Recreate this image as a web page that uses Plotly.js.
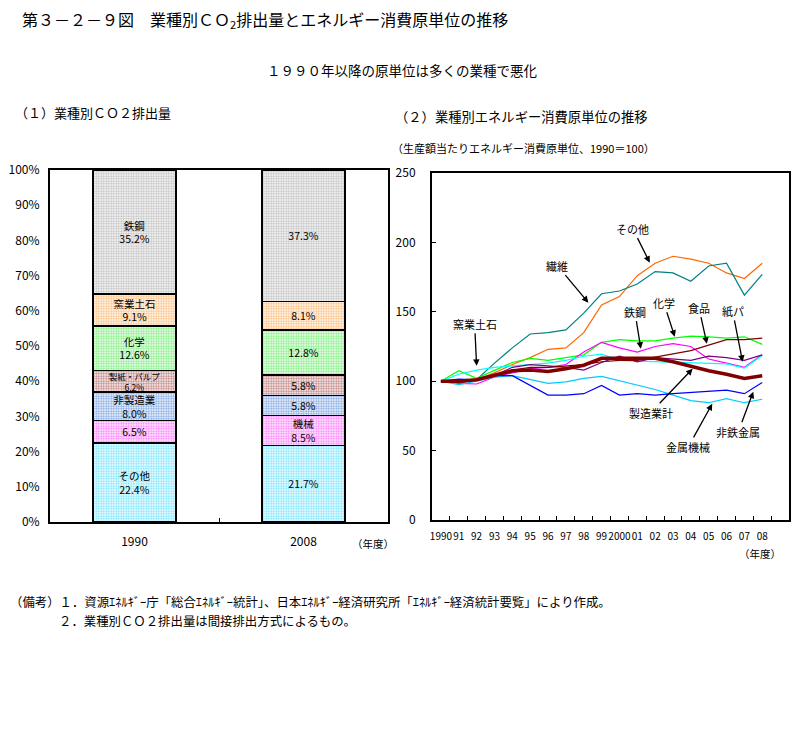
<!DOCTYPE html>
<html><head><meta charset="utf-8">
<script src="https://cdn.plot.ly/plotly-3.0.1.min.js"></script>
<style>html,body{margin:0;padding:0;background:#fff;}#chart{width:811px;height:731px;}</style>
</head><body><div id="chart"></div>
<script>
// ---- Left chart: CO2 emission shares (%) ----
const barYears = ["1990", "2008"];
const sectorNames = ["その他", "機械", "非製造業", "製紙・パルプ", "化学", "窯業土石", "鉄鋼"];
const share1990 = [22.4, 6.5, 8.0, 6.2, 12.6, 9.1, 35.2];
const share2008 = [21.7, 8.5, 5.8, 5.8, 12.8, 8.1, 37.3];
const showName1990 = [true, false, true, true, true, true, true];
const showName2008 = [false, true, false, false, false, false, false];
const sectorColors = ["#00CCFF", "#FF00FF", "#0050C8", "#800000", "#00E000", "#FF8000", "#808080"];

// ---- Right chart: energy intensity index (1990=100) ----
const years = ["1990","91","92","93","94","95","96","97","98","99","2000","01","02","03","04","05","06","07","08"];
const sonota   = [100, 99, 101, 106, 112, 117, 123, 124, 135, 155, 161, 176, 185, 190, 188, 185, 178, 174, 185];
const seni     = [100, 99, 101, 113, 124, 134, 135, 137, 149, 163, 165, 170, 179, 178, 172, 183, 185, 162, 177];
const kagaku   = [100, 107.5, 102, 108, 113.5, 116.5, 115, 117, 119, 128, 130, 129, 129, 131, 132.5, 132, 131, 132, 126.5];
const tekko    = [100, 98.5, 98, 103, 106, 109, 110, 112, 121, 128, 124, 121, 125, 127, 125, 116, 113, 110, 119];
const shokuhin = [100, 100, 101, 104, 108, 110, 110, 111, 112, 114, 115, 115, 117.5, 119.5, 122, 126, 130, 130, 131];
const kamipa   = [100, 99, 101, 104, 110, 112, 111, 110, 108, 113.5, 118, 114, 117, 116, 115, 118, 117, 115, 119];
const yogyo    = [100, 105, 108, 110, 111, 112, 113, 115, 118, 119.5, 115, 114.5, 114, 114, 113.5, 113, 112.5, 109.5, 118.5];
const kinzoku  = [100, 97.5, 100, 103, 104, 101.5, 98.5, 99.5, 102, 103.5, 100.5, 97, 94, 90, 86, 84.5, 87.5, 84.5, 87];
const hitetsu  = [100, 101.5, 101, 104, 104, 97, 90, 90, 91, 97, 90, 91, 90, 91, 92, 93, 93.5, 91, 99];
const seizo    = [100, 100, 101, 104, 107.5, 108, 107, 109, 111.5, 116.5, 116.5, 116.5, 116.5, 114, 110.5, 107.5, 105, 102, 104];

const F = "Noto Sans CJK JP, sans-serif";
const traces = [];

sectorNames.forEach((n, i) => {
  const txt = [
    (showName1990[i] ? n + "<br>" : "") + share1990[i].toFixed(1) + "%",
    (showName2008[i] ? n + "<br>" : "") + share2008[i].toFixed(1) + "%"
  ];
  const small1990 = showName1990[i] && share1990[i] < 7;
  traces.push({
    type: "bar", x: barYears, y: [share1990[i], share2008[i]], name: n,
    xaxis: "x", yaxis: "y",
    text: txt, textposition: "inside", insidetextanchor: "middle", textangle: 0,
    constraintext: "none", cliponaxis: false,
    textfont: {family: F, size: [small1990 ? 8.5 : 10.5, 10.5], color: "#000"},
    marker: {color: "#ffffff", line: {color: "#000", width: 1.5},
      pattern: {shape: ".", fgcolor: sectorColors[i], bgcolor: "#ffffff", size: 2.5, solidity: 0.5, fillmode: "overlay"}},
    showlegend: false, hoverinfo: "skip"
  });
});

const lineSeries = [
  [sonota, "#FF6600", 1.2],
  [seni, "#008080", 1.2],
  [kagaku, "#00FF00", 1.2],
  [tekko, "#FF00FF", 1.2],
  [yogyo, "#00FFFF", 1.2],
  [kinzoku, "#00CCFF", 1.2],
  [hitetsu, "#0000FF", 1.2],
  [kamipa, "#800080", 1.2],
  [shokuhin, "#800000", 1.2],
  [seizo, "#800000", 3.5]
];
lineSeries.forEach(s => {
  traces.push({type: "scatter", mode: "lines", x: years, y: s[0], xaxis: "x2", yaxis: "y2",
    line: {color: s[1], width: s[2]}, showlegend: false, hoverinfo: "skip"});
});

function px(x) { return x / 811; }
function py(y) { return 1 - y / 731; }
function txt(t, x, y, size, anchor) {
  return {text: t, x: px(x), y: py(y), xref: "paper", yref: "paper", showarrow: false, align: "left",
    xanchor: anchor || "left", yanchor: "middle", font: {family: F, size: size, color: "#000"}};
}
function arrowNote(t, xi, yv, ax, ay) {
  return {text: t, x: xi, y: yv, xref: "x2", yref: "y2", showarrow: true, ax: ax, ay: ay,
    arrowhead: 2, arrowsize: 1, arrowwidth: 1.3, arrowcolor: "#000", standoff: 0,
    font: {family: F, size: 11, color: "#000"}};
}

const annotations = [
  txt("第３－２－９図　業種別ＣＯ<sub>2</sub>排出量とエネルギー消費原単位の推移", 20, 20, 16),
  txt("１９９０年以降の原単位は多くの業種で悪化", 402, 70, 13.5, "center"),
  txt("（１）業種別ＣＯ２排出量", 13, 112, 13),
  txt("（２）業種別エネルギー消費原単位の推移", 393, 117, 13.3),
  txt("（生産額当たりエネルギー消費原単位、1990＝100）", 390, 148, 11),
  txt("（年度）", 350, 543, 10.5),
  txt("（年度）", 737, 553, 10.5),
  txt("（備考）１．資源ｴﾈﾙｷﾞｰ庁「総合ｴﾈﾙｷﾞｰ統計」、日本ｴﾈﾙｷﾞｰ経済研究所「ｴﾈﾙｷﾞｰ経済統計要覧」により作成。", 8, 602, 12.4),
  txt("２．業種別ＣＯ２排出量は間接排出方式によるもの。", 57, 621, 12.4),
  arrowNote("その他", 11.7, 185.4, -17, -34),
  arrowNote("繊維", 8.26, 156.6, -31, -37),
  arrowNote("窯業土石", 2.0, 111.1, -2, -42),
  arrowNote("鉄鋼", 11.2, 123.4, -6, -37),
  arrowNote("化学", 13.1, 132, -11, -34),
  arrowNote("食品", 14.9, 127, -8, -36),
  arrowNote("紙パ", 16.9, 114, -10, -51),
  arrowNote("製造業計", 14.1, 109, -42, 44),
  arrowNote("金属機械", 15.2, 83.7, -24, 43),
  arrowNote("非鉄金属", 17.5, 92.4, -15, 40)
];

const layout = {
  width: 811, height: 731, margin: {l: 0, r: 0, t: 0, b: 0},
  paper_bgcolor: "#fff", plot_bgcolor: "#fff",
  barmode: "stack", bargap: 0.51,
  font: {family: F, size: 12, color: "#000"},
  xaxis: {domain: [px(50), px(388)], anchor: "y", type: "category", categoryorder: "array", categoryarray: barYears,
    range: [-0.5, 1.5], tickson: "boundaries", ticks: "inside", ticklen: 4, tickcolor: "#000",
    showline: true, mirror: true, linecolor: "#000", linewidth: 2, showgrid: false, zeroline: false,
    tickfont: {family: F, size: 12}, ticklabelstandoff: 8, tickangle: 0},
  yaxis: {domain: [py(522), py(170)], anchor: "x", range: [0, 100], dtick: 10, ticksuffix: "%",
    ticks: "", showline: true, mirror: true, linecolor: "#000", linewidth: 2, showgrid: false, zeroline: false,
    tickfont: {family: F, size: 12}, ticklabelstandoff: 6},
  xaxis2: {domain: [px(432), px(789)], anchor: "y2", type: "category", categoryorder: "array", categoryarray: years.concat([" "]),
    range: [-0.5, 19.5], tickson: "boundaries", ticks: "inside", ticklen: 4, tickcolor: "#000",
    showline: true, mirror: true, linecolor: "#000", linewidth: 2, showgrid: false, zeroline: false,
    tickfont: {family: F, size: 10}, ticklabelstandoff: 6, tickangle: 0},
  yaxis2: {domain: [py(520), py(173)], anchor: "x2", range: [0, 250], dtick: 50,
    ticks: "inside", ticklen: 4, tickcolor: "#000",
    showline: true, mirror: true, linecolor: "#000", linewidth: 2, showgrid: false, zeroline: false,
    tickfont: {family: F, size: 12}, ticklabelstandoff: 12},
  annotations: annotations
};

Plotly.newPlot("chart", traces, layout, {staticPlot: true, displayModeBar: false});
</script></body></html>
